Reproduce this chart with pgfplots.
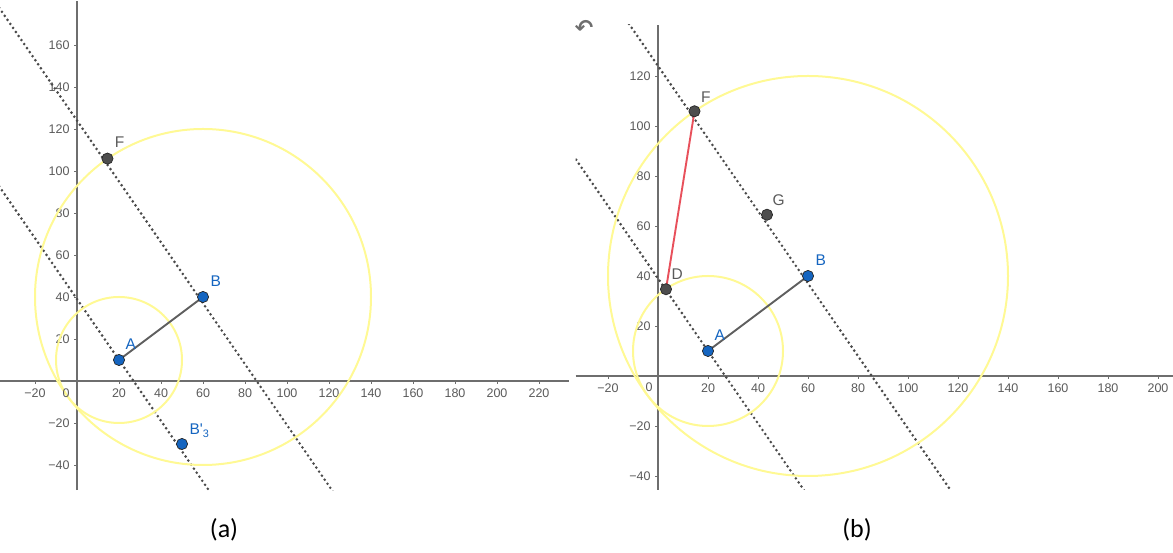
\documentclass[border=0pt]{standalone}
\usepackage{pgfplots}
\pgfplotsset{compat=1.18}
\usepackage{fontspec}
\setmainfont{Liberation Sans}
\newfontfamily\calibri{Carlito}
\newfontfamily\dejavu{DejaVu Sans}
\definecolor{axgray}{HTML}{6E6E6E}
\definecolor{lblgray}{HTML}{5A5A5A}
\definecolor{dotgray}{HTML}{4A4A4A}
\definecolor{ptblue}{HTML}{1565C0}
\definecolor{ptgray}{HTML}{4D4D4D}
\definecolor{circy}{HTML}{FFF994}
\definecolor{segred}{HTML}{E8505B}
\pgfplotsset{
  geo/.style={
    axis lines=middle,
    axis line style={draw=axgray, line width=1.2pt, -},
    enlargelimits=false, clip=true,
    tick align=outside, major tick length=3pt,
    tick style={draw=axgray, line width=0.8pt},
    ticklabel style={font=\fontsize{12.5}{14}\selectfont, text=lblgray},
    xticklabel style={yshift=-1pt},
    yticklabel style={xshift=-1pt},
  },
}
\tikzset{
  dotline/.style={dotgray, line width=2.9pt, dash pattern=on 0pt off 4.9pt, line cap=round},
  circ/.style={circy, line width=2pt},
  bluept/.style={only marks, mark=*, mark size=5.6pt, mark options={fill=ptblue, draw=black!85, line width=0.7pt}},
  graypt/.style={only marks, mark=*, mark size=5.6pt, mark options={fill=ptgray, draw=black!85, line width=0.7pt}},
  ptlbl/.style={anchor=base west, font=\fontsize{15.5}{17}\selectfont},
}
\begin{document}
\begin{tikzpicture}
\useasboundingbox (0,0) rectangle (1173pt,553pt);
% ---------------- panel (a)
\begin{axis}[geo, x=2.1pt, y=2.1pt,
  xmin=-36.7, xmax=234.5, ymin=-52, ymax=181,
  at={(77pt,172pt)}, anchor=origin,
  xtick={-20,20,40,60,80,100,120,140,160,180,200,220},
  xticklabels={−20,20,40,60,80,100,120,140,160,180,200,220},
  ytick={-40,-20,20,40,60,80,100,120,140,160},
  yticklabels={−40,−20,20,40,60,80,100,120,140,160}]
  \addplot[dotline] coordinates {(-45,189.25) (140,-79)};
  \addplot[dotline] coordinates {(-45,104.25) (100,-106)};
  \draw[circ] (axis cs:20,10) circle [radius=30];
  \draw[circ] (axis cs:60,40) circle [radius=80];
  \addplot[ptgray!90, line width=1.9pt] coordinates {(20,10) (60,40)};
  \addplot[graypt] coordinates {(14.5,105.9)};
  \addplot[bluept] coordinates {(20,10) (60,40) (50,-30)};
  \node[ptlbl, text=ptblue, xshift=3pt, yshift=10pt] at (axis cs:20,10) {A};
  \node[ptlbl, text=ptblue, xshift=4pt, yshift=10pt] at (axis cs:60,40) {B};
  \node[ptlbl, text=ptblue, xshift=4pt, yshift=9pt] at (axis cs:50,-30) {B\textquotesingle\textsubscript{3}};
  \node[ptlbl, text=lblgray, xshift=4pt, yshift=11pt] at (axis cs:14.5,105.9) {F};
  \node[font=\fontsize{12.5}{14}\selectfont, text=lblgray, xshift=-11pt, yshift=-12pt] at (axis cs:0,0) {0};
\end{axis}
% ---------------- panel (b)
\begin{axis}[geo, x=2.5pt, y=2.5pt,
  xmin=-33, xmax=206, ymin=-45.6, ymax=140.4,
  at={(658pt,177pt)}, anchor=origin,
  xtick={-20,20,40,60,80,100,120,140,160,180,200},
  xticklabels={−20,20,40,60,80,100,120,140,160,180,200},
  ytick={-40,-20,20,40,60,80,100,120},
  yticklabels={−40,−20,20,40,60,80,100,120}]
  \addplot[dotline] coordinates {(-45,189.25) (140,-79)};
  \addplot[dotline] coordinates {(-45,104.25) (100,-106)};
  \draw[circ] (axis cs:20,10) circle [radius=30];
  \draw[circ] (axis cs:60,40) circle [radius=80];
  \addplot[ptgray!90, line width=1.9pt] coordinates {(20,10) (60,40)};
  \addplot[segred, line width=1.9pt] coordinates {(3.2,34.7) (14.6,105.9)};
  \addplot[graypt] coordinates {(14.6,105.9) (43.6,64.5) (3.2,34.7)};
  \addplot[bluept] coordinates {(20,10) (60,40)};
  \node[ptlbl, text=ptblue, xshift=3pt, yshift=10pt] at (axis cs:20,10) {A};
  \node[ptlbl, text=ptblue, xshift=4pt, yshift=10pt] at (axis cs:60,40) {B};
  \node[ptlbl, text=lblgray, xshift=3pt, yshift=9pt] at (axis cs:14.6,105.9) {F};
  \node[ptlbl, text=lblgray, xshift=2pt, yshift=9pt] at (axis cs:43.6,64.5) {G};
  \node[ptlbl, text=lblgray, xshift=2pt, yshift=10pt] at (axis cs:3.2,34.7) {D};
  \node[font=\fontsize{12.5}{14}\selectfont, text=lblgray, xshift=-9pt, yshift=-11pt] at (axis cs:0,0) {0};
\end{axis}
\node[text=axgray, font=\dejavu\bfseries\fontsize{22}{22}\selectfont] at (584pt,525pt) {↶};
\node[font=\calibri\fontsize{26}{28}\selectfont] at (224pt,23pt) {(a)};
\node[font=\calibri\fontsize{26}{28}\selectfont] at (857pt,23pt) {(b)};
\end{tikzpicture}
\end{document}
